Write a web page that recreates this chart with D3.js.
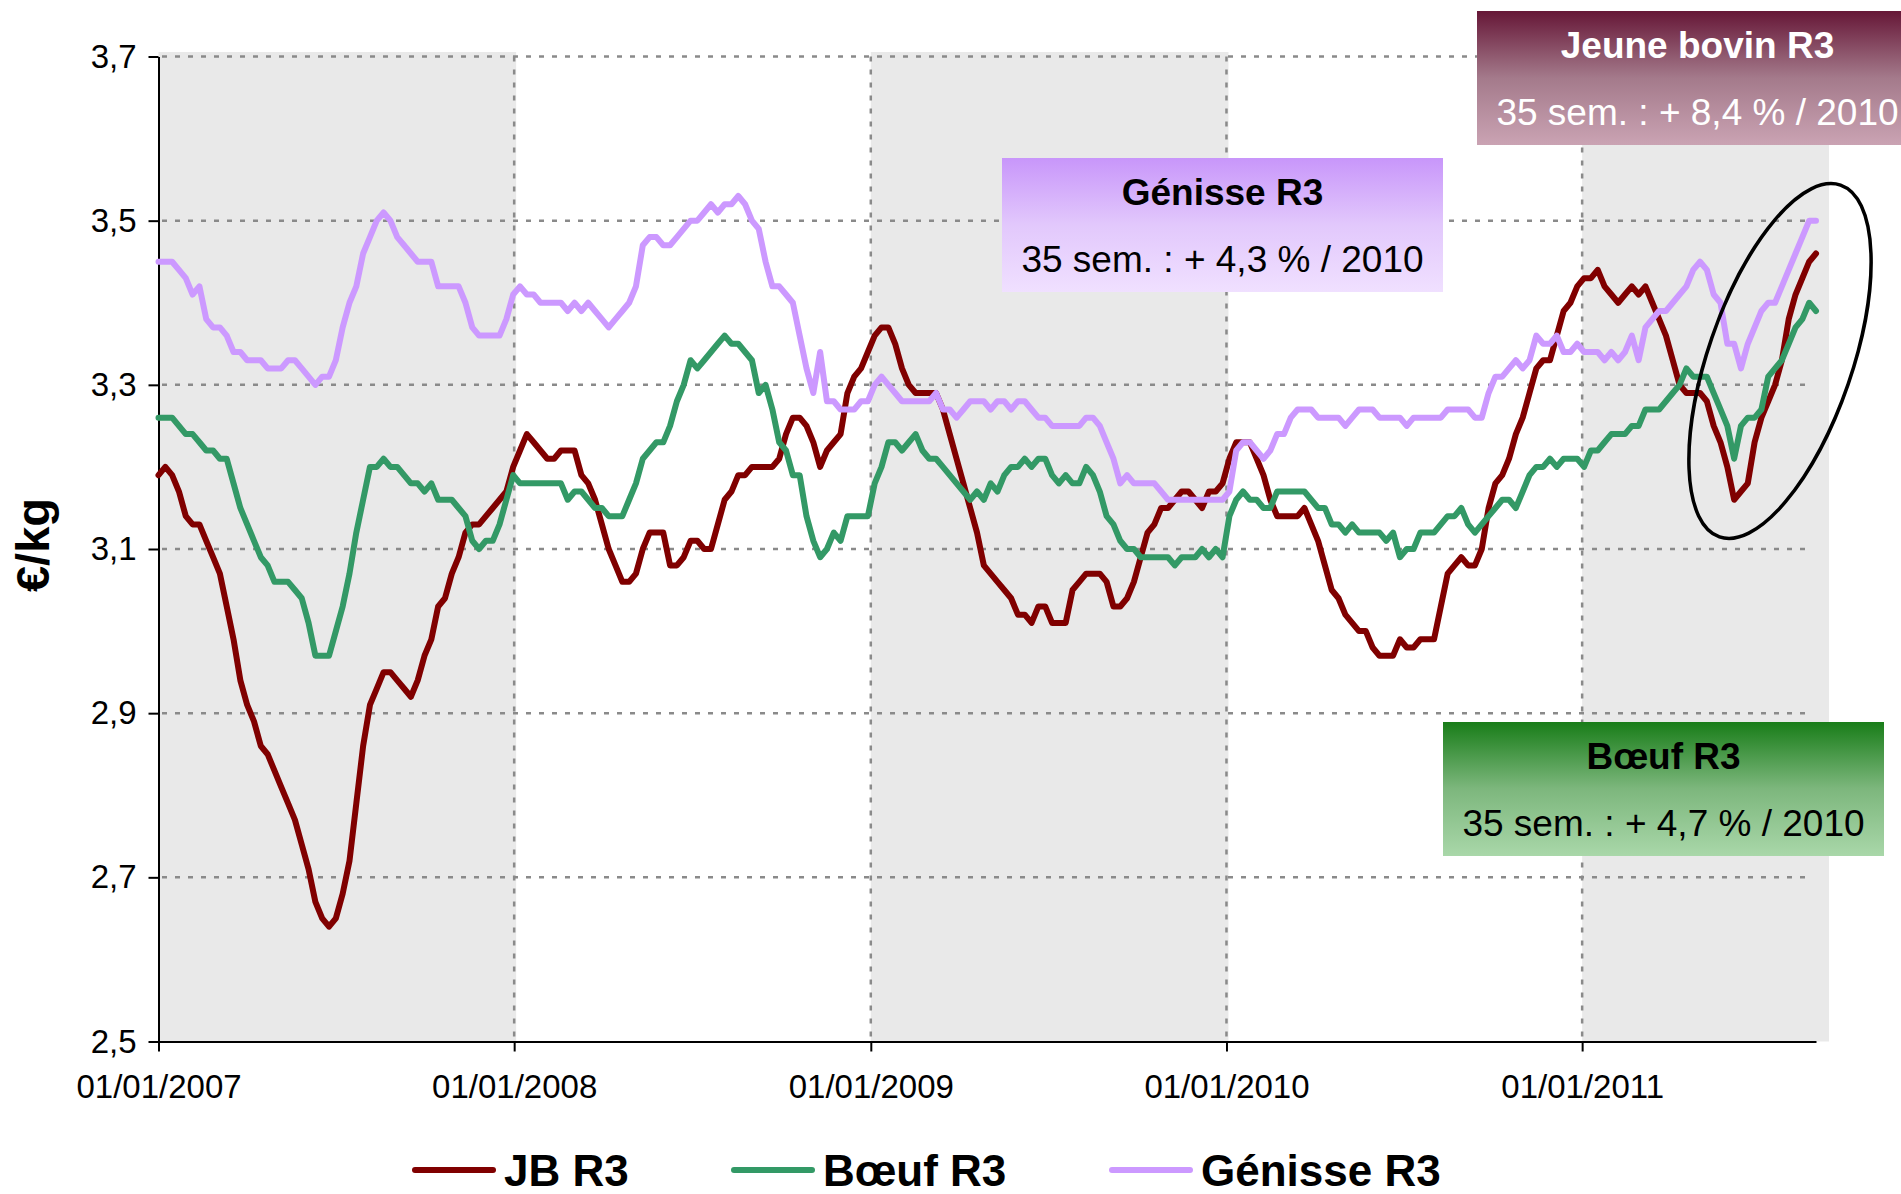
<!DOCTYPE html>
<html>
<head>
<meta charset="utf-8">
<script src="https://cdn.jsdelivr.net/npm/d3@7"></script>
<style>
body { margin: 0; background: #fff; overflow: hidden; }
svg { display: block; font-family: "Liberation Sans", Arial, sans-serif; }
</style>
</head>
<body>
<svg id="chart" width="1901" height="1194"></svg>
<script>
// weekly prices, first week = 01/01/2007, last week = week 35 of 2011
var firstWeek = "2007-01-01";
var yearTicks = ["2007-01-01", "2008-01-01", "2009-01-01", "2010-01-01", "2011-01-01"];
var shadedYears = [2007, 2009, 2011];
var yTicks = [2.5, 2.7, 2.9, 3.1, 3.3, 3.5, 3.7];
var seriesNames = ["JB R3", "Bœuf R3", "Génisse R3"];

var jb = [
  3.19, 3.20, 3.19, 3.17, 3.14, 3.13, 3.13, 3.11, 3.09, 3.07,
  3.03, 2.99, 2.94, 2.91, 2.89, 2.86, 2.85, 2.83, 2.81, 2.79,
  2.77, 2.74, 2.71, 2.67, 2.65, 2.64, 2.65, 2.68, 2.72, 2.79,
  2.86, 2.91, 2.93, 2.95, 2.95, 2.94, 2.93, 2.92, 2.94, 2.97,
  2.99, 3.03, 3.04, 3.07, 3.09, 3.12, 3.13, 3.13, 3.14, 3.15,
  3.16, 3.17, 3.20, 3.22, 3.24, 3.23, 3.22, 3.21, 3.21, 3.22,
  3.22, 3.22, 3.19, 3.18, 3.16, 3.13, 3.10, 3.08, 3.06, 3.06,
  3.07, 3.10, 3.12, 3.12, 3.12, 3.08, 3.08, 3.09, 3.11, 3.11,
  3.10, 3.10, 3.13, 3.16, 3.17, 3.19, 3.19, 3.20, 3.20, 3.20,
  3.20, 3.21, 3.24, 3.26, 3.26, 3.25, 3.23, 3.20, 3.22, 3.23,
  3.24, 3.29, 3.31, 3.32, 3.34, 3.36, 3.37, 3.37, 3.35, 3.32,
  3.30, 3.29, 3.29, 3.29, 3.29, 3.27, 3.24, 3.21, 3.18, 3.15,
  3.12, 3.08, 3.07, 3.06, 3.05, 3.04, 3.02, 3.02, 3.01, 3.03,
  3.03, 3.01, 3.01, 3.01, 3.05, 3.06, 3.07, 3.07, 3.07, 3.06,
  3.03, 3.03, 3.04, 3.06, 3.09, 3.12, 3.13, 3.15, 3.15, 3.16,
  3.17, 3.17, 3.16, 3.15, 3.17, 3.17, 3.18, 3.21, 3.23, 3.23,
  3.23, 3.21, 3.19, 3.16, 3.14, 3.14, 3.14, 3.14, 3.15, 3.13,
  3.11, 3.08, 3.05, 3.04, 3.02, 3.01, 3.00, 3.00, 2.98, 2.97,
  2.97, 2.97, 2.99, 2.98, 2.98, 2.99, 2.99, 2.99, 3.03, 3.07,
  3.08, 3.09, 3.08, 3.08, 3.10, 3.15, 3.18, 3.19, 3.21, 3.24,
  3.26, 3.29, 3.32, 3.33, 3.33, 3.36, 3.39, 3.40, 3.42, 3.43,
  3.43, 3.44, 3.42, 3.41, 3.40, 3.41, 3.42, 3.41, 3.42, 3.40,
  3.38, 3.36, 3.33, 3.30, 3.29, 3.29, 3.29, 3.28, 3.25, 3.23,
  3.20, 3.16, 3.17, 3.18, 3.23, 3.26, 3.28, 3.30, 3.33, 3.38,
  3.41, 3.43, 3.45, 3.46
];

var boeuf = [
  3.26, 3.26, 3.26, 3.25, 3.24, 3.24, 3.23, 3.22, 3.22, 3.21,
  3.21, 3.18, 3.15, 3.13, 3.11, 3.09, 3.08, 3.06, 3.06, 3.06,
  3.05, 3.04, 3.01, 2.97, 2.97, 2.97, 3.00, 3.03, 3.07, 3.12,
  3.16, 3.20, 3.20, 3.21, 3.20, 3.20, 3.19, 3.18, 3.18, 3.17,
  3.18, 3.16, 3.16, 3.16, 3.15, 3.14, 3.11, 3.10, 3.11, 3.11,
  3.13, 3.16, 3.19, 3.18, 3.18, 3.18, 3.18, 3.18, 3.18, 3.18,
  3.16, 3.17, 3.17, 3.16, 3.15, 3.15, 3.14, 3.14, 3.14, 3.16,
  3.18, 3.21, 3.22, 3.23, 3.23, 3.25, 3.28, 3.30, 3.33, 3.32,
  3.33, 3.34, 3.35, 3.36, 3.35, 3.35, 3.34, 3.33, 3.29, 3.30,
  3.27, 3.23, 3.22, 3.19, 3.19, 3.14, 3.11, 3.09, 3.10, 3.12,
  3.11, 3.14, 3.14, 3.14, 3.14, 3.18, 3.20, 3.23, 3.23, 3.22,
  3.23, 3.24, 3.22, 3.21, 3.21, 3.20, 3.19, 3.18, 3.17, 3.16,
  3.17, 3.16, 3.18, 3.17, 3.19, 3.20, 3.20, 3.21, 3.20, 3.21,
  3.21, 3.19, 3.18, 3.19, 3.18, 3.18, 3.20, 3.19, 3.17, 3.14,
  3.13, 3.11, 3.10, 3.10, 3.09, 3.09, 3.09, 3.09, 3.09, 3.08,
  3.09, 3.09, 3.09, 3.10, 3.09, 3.10, 3.09, 3.14, 3.16, 3.17,
  3.16, 3.16, 3.15, 3.15, 3.17, 3.17, 3.17, 3.17, 3.17, 3.16,
  3.15, 3.15, 3.13, 3.13, 3.12, 3.13, 3.12, 3.12, 3.12, 3.12,
  3.11, 3.12, 3.09, 3.10, 3.10, 3.12, 3.12, 3.12, 3.13, 3.14,
  3.14, 3.15, 3.13, 3.12, 3.13, 3.14, 3.15, 3.16, 3.16, 3.15,
  3.17, 3.19, 3.20, 3.20, 3.21, 3.20, 3.21, 3.21, 3.21, 3.20,
  3.22, 3.22, 3.23, 3.24, 3.24, 3.24, 3.25, 3.25, 3.27, 3.27,
  3.27, 3.28, 3.29, 3.30, 3.32, 3.31, 3.31, 3.31, 3.29, 3.27,
  3.25, 3.21, 3.25, 3.26, 3.26, 3.27, 3.31, 3.32, 3.33, 3.35,
  3.37, 3.38, 3.40, 3.39
];

var genisse = [
  3.45, 3.45, 3.45, 3.44, 3.43, 3.41, 3.42, 3.38, 3.37, 3.37,
  3.36, 3.34, 3.34, 3.33, 3.33, 3.33, 3.32, 3.32, 3.32, 3.33,
  3.33, 3.32, 3.31, 3.30, 3.31, 3.31, 3.33, 3.37, 3.40, 3.42,
  3.46, 3.48, 3.50, 3.51, 3.50, 3.48, 3.47, 3.46, 3.45, 3.45,
  3.45, 3.42, 3.42, 3.42, 3.42, 3.40, 3.37, 3.36, 3.36, 3.36,
  3.36, 3.38, 3.41, 3.42, 3.41, 3.41, 3.40, 3.40, 3.40, 3.40,
  3.39, 3.40, 3.39, 3.40, 3.39, 3.38, 3.37, 3.38, 3.39, 3.40,
  3.42, 3.47, 3.48, 3.48, 3.47, 3.47, 3.48, 3.49, 3.50, 3.50,
  3.51, 3.52, 3.51, 3.52, 3.52, 3.53, 3.52, 3.50, 3.49, 3.45,
  3.42, 3.42, 3.41, 3.40, 3.36, 3.32, 3.29, 3.34, 3.28, 3.28,
  3.27, 3.27, 3.27, 3.28, 3.28, 3.30, 3.31, 3.30, 3.29, 3.28,
  3.28, 3.28, 3.28, 3.28, 3.29, 3.27, 3.27, 3.26, 3.27, 3.28,
  3.28, 3.28, 3.27, 3.28, 3.28, 3.27, 3.28, 3.28, 3.27, 3.26,
  3.26, 3.25, 3.25, 3.25, 3.25, 3.25, 3.26, 3.26, 3.25, 3.23,
  3.21, 3.18, 3.19, 3.18, 3.18, 3.18, 3.18, 3.17, 3.16, 3.16,
  3.16, 3.16, 3.16, 3.16, 3.16, 3.16, 3.16, 3.17, 3.22, 3.23,
  3.23, 3.22, 3.21, 3.22, 3.24, 3.24, 3.26, 3.27, 3.27, 3.27,
  3.26, 3.26, 3.26, 3.26, 3.25, 3.26, 3.27, 3.27, 3.27, 3.26,
  3.26, 3.26, 3.26, 3.25, 3.26, 3.26, 3.26, 3.26, 3.26, 3.27,
  3.27, 3.27, 3.27, 3.26, 3.26, 3.29, 3.31, 3.31, 3.32, 3.33,
  3.32, 3.33, 3.36, 3.35, 3.35, 3.36, 3.34, 3.34, 3.35, 3.34,
  3.34, 3.34, 3.33, 3.34, 3.33, 3.34, 3.36, 3.33, 3.37, 3.38,
  3.39, 3.39, 3.40, 3.41, 3.42, 3.44, 3.45, 3.44, 3.41, 3.40,
  3.35, 3.35, 3.32, 3.35, 3.37, 3.39, 3.40, 3.40, 3.42, 3.44,
  3.46, 3.48, 3.50, 3.50
];

var noteTitles = ["Jeune bovin R3", "Génisse R3", "Bœuf R3"];
var noteTexts = ["35 sem. : + 8,4 % / 2010", "35 sem. : + 4,3 % / 2010", "35 sem. : + 4,7 % / 2010"];

var colors = ["#800000", "#339966", "#cc99ff"];
var parse = d3.utcParse("%Y-%m-%d");
var start = parse(firstWeek);
var weeks = jb.map(function (d, i) { return d3.utcDay.offset(start, 7 * i); });
var lastWeek = weeks[weeks.length - 1];

var svg = d3.select("#chart");
var x = d3.scaleUtc().domain([start, lastWeek]).range([158.5, 1816]);
var y = d3.scaleLinear().domain([2.5, 3.7]).range([1041.5, 56.5]);

// gradients for the note boxes
var defs = svg.append("defs");
function grad(id, stops) {
  var g = defs.append("linearGradient").attr("id", id)
    .attr("x1", 0).attr("y1", 0).attr("x2", 0).attr("y2", 1);
  stops.forEach(function (s) {
    g.append("stop").attr("offset", s[0]).attr("stop-color", s[1]);
  });
}
grad("gJB", [[0, "#661737"], [0.5, "#a47a8b"], [1, "#caa3b3"]]);
grad("gGen", [[0, "#c896fa"], [0.5, "#e2c8fc"], [1, "#f0e0ff"]]);
grad("gBoe", [[0, "#197d19"], [0.5, "#7db77d"], [1, "#a9d7a9"]]);

// shaded years
svg.append("g").selectAll("rect")
  .data(shadedYears)
  .join("rect")
  .attr("x", function (d) { return x(Date.UTC(d, 0, 1)); })
  .attr("y", y(3.7) - 4.5)
  .attr("width", function (d) {
    var end = d === 2011 ? x(lastWeek) + 13 : x(Date.UTC(d + 1, 0, 1)) + 2;
    return end - x(Date.UTC(d, 0, 1));
  })
  .attr("height", y(2.5) - y(3.7) + 4.5)
  .attr("fill", "#e9e9e9");

// grid
var grid = svg.append("g")
  .attr("stroke", "#8a8a8a").attr("stroke-width", 2.5).attr("stroke-dasharray", "5,8");
grid.selectAll("line.h")
  .data(yTicks.slice(1))
  .join("line").attr("class", "h")
  .attr("x1", 162).attr("x2", 1812)
  .attr("y1", function (d) { return y(d); }).attr("y2", function (d) { return y(d); });
grid.selectAll("line.v")
  .data(yearTicks.slice(1))
  .join("line").attr("class", "v")
  .attr("x1", function (d) { return x(parse(d)); }).attr("x2", function (d) { return x(parse(d)); })
  .attr("y1", y(3.7)).attr("y2", y(2.5));

// axes
var xAxis = d3.axisBottom(x)
  .tickValues(yearTicks.map(parse))
  .tickFormat(d3.utcFormat("%d/%m/%Y"))
  .tickSize(10).tickSizeOuter(0).tickPadding(23);
var gx = svg.append("g").attr("transform", "translate(0," + y(2.5) + ")").call(xAxis);

var yAxis = d3.axisLeft(y)
  .tickValues(yTicks)
  .tickFormat(function (d) { return d.toFixed(1).replace(".", ","); })
  .tickSize(10).tickSizeOuter(0).tickPadding(12);
var gy = svg.append("g").attr("transform", "translate(" + x(start) + ",0)").call(yAxis);

[gx, gy].forEach(function (g) {
  g.selectAll("path, line").attr("stroke", "#000").attr("stroke-width", 2);
  g.selectAll("text").attr("font-size", 33).attr("fill", "#000")
    .attr("font-family", "Liberation Sans, Arial, sans-serif");
});

svg.append("text")
  .attr("transform", "translate(49,545) rotate(-90)")
  .attr("text-anchor", "middle")
  .attr("font-size", 47).attr("font-weight", "bold")
  .text("€/kg");

// series
var line = d3.line()
  .x(function (d, i) { return x(weeks[i]); })
  .y(function (d) { return y(d); });

svg.append("g").selectAll("path")
  .data([jb, boeuf, genisse])
  .join("path")
  .attr("d", line)
  .attr("fill", "none")
  .attr("stroke", function (d, i) { return colors[i]; })
  .attr("stroke-width", 6)
  .attr("stroke-linejoin", "round")
  .attr("stroke-linecap", "round");

// circled end of series
svg.append("ellipse")
  .attr("transform", "translate(1780,361) rotate(19)")
  .attr("rx", 72).attr("ry", 186)
  .attr("fill", "none").attr("stroke", "#000").attr("stroke-width", 3.5);

// note boxes
var boxes = [
  { x: 1477, y: 11, fill: "url(#gJB)", color: "#fff" },
  { x: 1002, y: 158, fill: "url(#gGen)", color: "#000" },
  { x: 1443, y: 722, fill: "url(#gBoe)", color: "#000" }
];
boxes.forEach(function (b, i) {
  var g = svg.append("g").attr("transform", "translate(" + b.x + "," + b.y + ")");
  g.append("rect").attr("width", 441).attr("height", 134).attr("fill", b.fill);
  g.append("text").attr("x", 220.5).attr("y", 47).attr("text-anchor", "middle")
    .attr("font-size", 37).attr("font-weight", "bold").attr("fill", b.color)
    .text(noteTitles[i]);
  g.append("text").attr("x", 220.5).attr("y", 114).attr("text-anchor", "middle")
    .attr("font-size", 37).attr("fill", b.color)
    .text(noteTexts[i]);
});

// legend
var legendX = [415, 734, 1112];
var legend = svg.append("g").selectAll("g")
  .data(seriesNames)
  .join("g")
  .attr("transform", function (d, i) { return "translate(" + legendX[i] + ",1170)"; });
legend.append("line")
  .attr("x1", 0).attr("x2", 78)
  .attr("stroke", function (d, i) { return colors[i]; })
  .attr("stroke-width", 6).attr("stroke-linecap", "round");
legend.append("text")
  .attr("x", 89).attr("y", 16)
  .attr("font-size", 44).attr("font-weight", "bold")
  .text(function (d) { return d; });
</script>
</body>
</html>
